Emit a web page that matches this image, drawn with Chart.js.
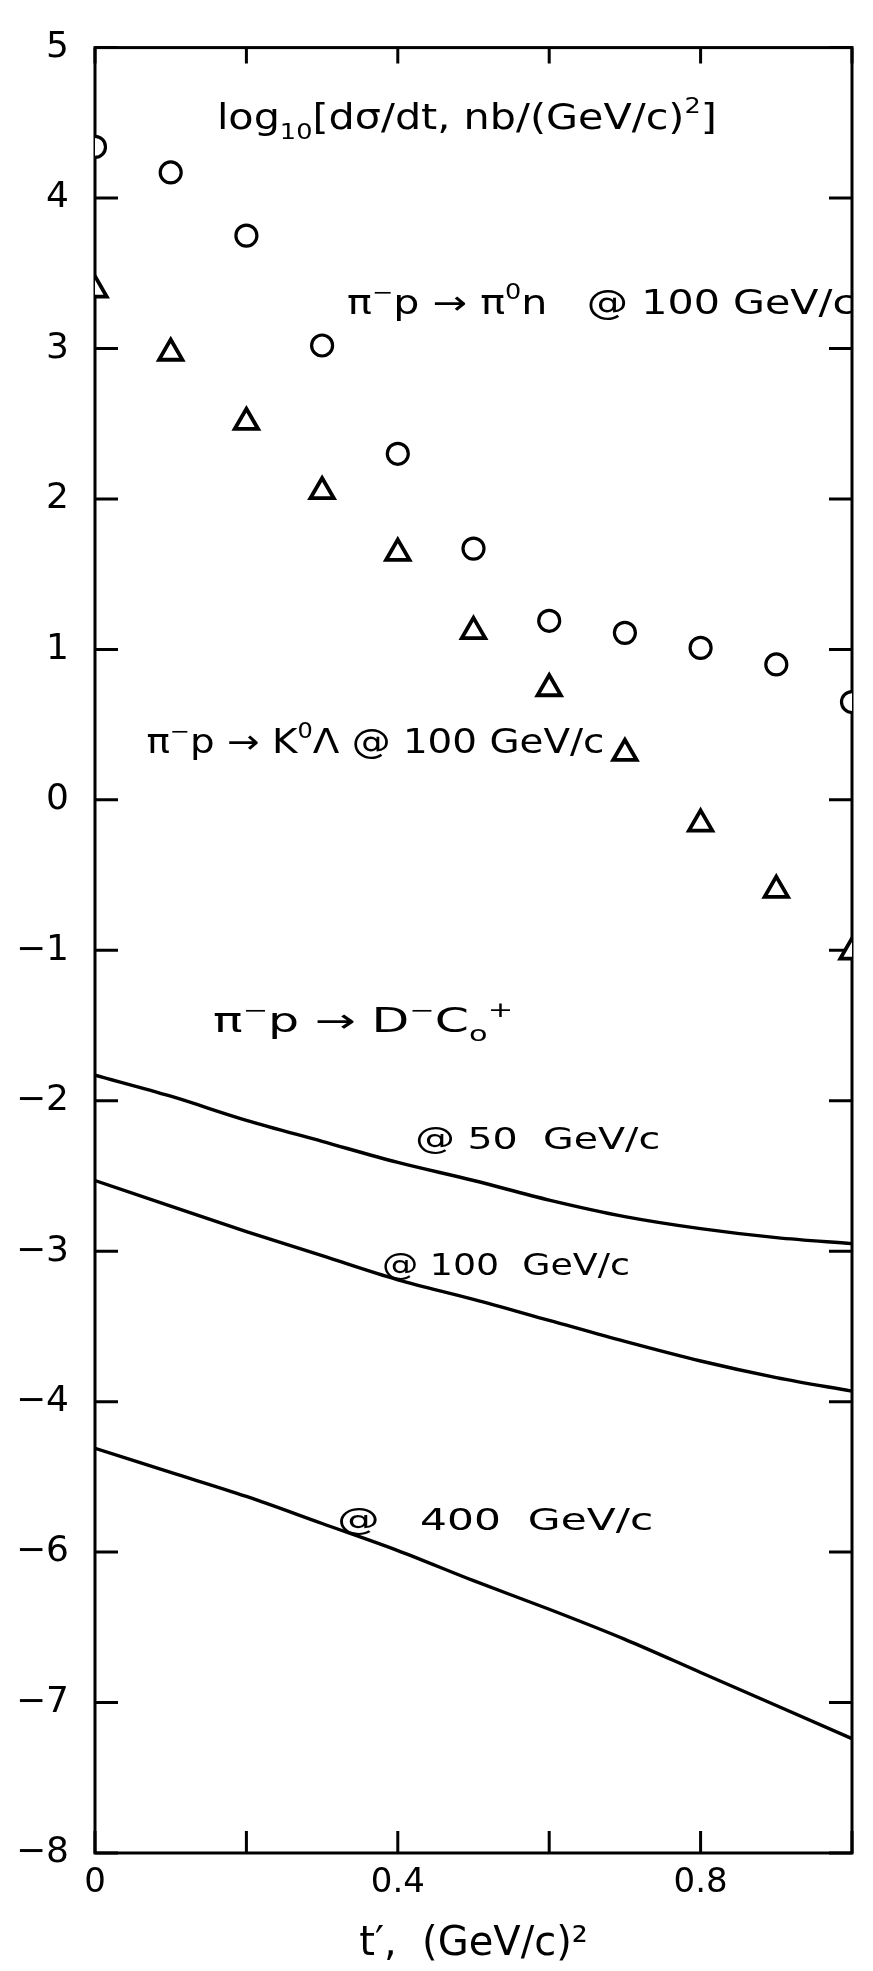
<!DOCTYPE html>
<html>
<head>
<meta charset="utf-8">
<script src="https://cdn.jsdelivr.net/npm/chart.js@4/dist/chart.umd.min.js"></script>
<style>
  html, body { margin: 0; padding: 0; background: #fff; }
</style>
</head>
<body>
<canvas id="chart" width="873" height="1971"></canvas>
<script>
// t' in (GeV/c)^2
const tPrime = [0, 0.1, 0.2, 0.3, 0.4, 0.5, 0.6, 0.7, 0.8, 0.9, 1.0]

// log10 dsigma/dt, read at the axis positions
const pi0nValues = [4.34, 4.17, 3.75, 3.02, 2.30, 1.67, 1.19, 1.11, 1.01, 0.90, 0.65]
const k0LambdaValues = [3.39, 2.97, 2.51, 2.05, 1.64, 1.12, 0.74, 0.31, -0.16, -0.60, -1.01]
const dc50Values = [-1.83, -1.97, -2.13, -2.27, -2.41, -2.53, -2.66, -2.77, -2.85, -2.91, -2.95]
const dc100Values = [-2.53, -2.70, -2.87, -3.03, -3.19, -3.32, -3.46, -3.60, -3.73, -3.84, -3.93]
const dc400Values = [-4.31, -4.47, -4.63, -4.81, -4.99, -5.19, -5.38, -5.58, -5.80, -6.02, -6.24]

// tick labels as written on the figure (top to bottom)
const yTickLabels = ["5", "4", "3", "2", "1", "0", "−1", "−2", "−3", "−4", "−6", "−7", "−8"]
const xTickValues = [0, 0.4, 0.8]
const xTickLabels = ["0", "0.4", "0.8"]

const FONT = '"DejaVu Sans", sans-serif'

const toPoints = (values) => values.map((v, i) => ({ x: tPrime[i], y: v }))

// text placed in data coordinates (left end of baseline)
const notes = [
  { x: 0.161, y: 4.46, size: 35, width: 500, parts: [["log"], ["10", "sub"], ["[dσ/dt, nb/(GeV/c)"], ["2", "sup"], ["]"]] },
  { x: 0.333, y: 3.23, size: 33, width: 508, parts: [["π"], ["−", "sup"], ["p → π"], ["0", "sup"], ["n   @ 100 GeV/c"]] },
  { x: 0.068, y: 0.31, size: 33, width: 458, parts: [["π"], ["−", "sup"], ["p → K"], ["0", "sup"], ["Λ @ 100 GeV/c"]] },
  { x: 0.156, y: -1.54, size: 33, width: 300, parts: [["π"], ["−", "sup"], ["p → D"], ["−", "sup"], ["C"], ["o", "sub"], ["+", "sup"]] },
  { x: 0.423, y: -2.32, size: 31, width: 245, parts: [["@ 50  GeV/c"]] },
  { x: 0.379, y: -3.16, size: 31, width: 248, parts: [["@ 100  GeV/c"]] },
  { x: 0.320, y: -4.85, size: 31, width: 316, parts: [["@   400  GeV/c"]] },
]

const drawParts = (ctx, parts, size, draw) => {
  let cx = 0
  for (const [txt, mode] of parts) {
    const s = mode ? size * 0.62 : size
    const dy = mode === "sup" ? -size * 0.45 : mode === "sub" ? size * 0.28 : 0
    ctx.font = `${s}px ${FONT}`
    if (draw) ctx.fillText(txt, cx, dy)
    cx += ctx.measureText(txt).width
  }
  return cx
}

const figurePlugin = {
  id: "figure",
  beforeDatasetsDraw(chart) {
    const { ctx, chartArea: a, scales: { x, y } } = chart
    ctx.save()
    ctx.strokeStyle = "#000"
    ctx.lineWidth = 3
    ctx.strokeRect(a.left, a.top, a.right - a.left, a.bottom - a.top)
    ctx.beginPath()
    y.ticks.forEach(({ value }) => {
      const py = y.getPixelForValue(value)
      ctx.moveTo(a.left, py)
      ctx.lineTo(a.left + 23, py)
      ctx.moveTo(a.right, py)
      ctx.lineTo(a.right - 23, py)
    })
    x.ticks.forEach(({ value }) => {
      const px = x.getPixelForValue(value)
      ctx.moveTo(px, a.bottom)
      ctx.lineTo(px, a.bottom - 22)
      ctx.moveTo(px, a.top)
      ctx.lineTo(px, a.top + 16)
    })
    ctx.stroke()
    ctx.restore()
  },
  afterDatasetsDraw(chart) {
    const { ctx, scales: { x, y } } = chart
    ctx.save()
    ctx.fillStyle = "#000"
    ctx.textBaseline = "alphabetic"
    notes.forEach((note) => {
      const natural = drawParts(ctx, note.parts, note.size, false)
      ctx.save()
      ctx.translate(x.getPixelForValue(note.x), y.getPixelForValue(note.y))
      ctx.scale(note.width / natural, 1)
      drawParts(ctx, note.parts, note.size, true)
      ctx.restore()
    })
    ctx.restore()
  },
}

new Chart(document.getElementById("chart"), {
  type: "scatter",
  data: {
    datasets: [
      {
        data: toPoints(pi0nValues),
        pointStyle: "circle",
        pointRadius: 10.5,
        borderWidth: 3.2,
        borderColor: "#000",
        backgroundColor: "#fff",
      },
      {
        data: toPoints(k0LambdaValues),
        pointStyle: "triangle",
        pointRadius: 13.5,
        borderWidth: 3.8,
        borderColor: "#000",
        backgroundColor: "#fff",
      },
      ...[dc50Values, dc100Values, dc400Values].map((values) => ({
        data: toPoints(values),
        showLine: true,
        pointRadius: 0,
        borderWidth: 3.4,
        borderColor: "#000",
        cubicInterpolationMode: "monotone",
      })),
    ],
  },
  options: {
    animation: false,
    responsive: false,
    layout: { padding: { top: 23, right: 21, left: 0, bottom: 0 } },
    plugins: {
      legend: { display: false },
      tooltip: { enabled: false },
    },
    scales: {
      x: {
        type: "linear",
        min: 0,
        max: 1,
        border: { display: false },
        grid: { display: false, drawTicks: false },
        ticks: {
          stepSize: 0.2,
          autoSkip: false,
          maxRotation: 0,
          padding: 10,
          color: "#000",
          font: { family: FONT, size: 34 },
          callback: (value) => {
            const i = xTickValues.findIndex((v) => Math.abs(v - value) < 1e-6)
            return i >= 0 ? xTickLabels[i] : ""
          },
        },
        title: {
          display: true,
          text: "t′,  (GeV/c)²",
          color: "#000",
          font: { family: FONT, size: 40 },
          padding: { top: 0, bottom: 2 },
        },
        afterFit: (scale) => {
          scale.height = 118
        },
      },
      y: {
        min: -7,
        max: 5,
        border: { display: false },
        grid: { display: false, drawTicks: false },
        ticks: {
          stepSize: 1,
          padding: 26,
          color: "#000",
          font: { family: FONT, size: 36 },
          callback: (value) => yTickLabels[5 - value],
        },
        afterFit: (scale) => {
          scale.width = 95
        },
      },
    },
  },
  plugins: [figurePlugin],
})
</script>
</body>
</html>
